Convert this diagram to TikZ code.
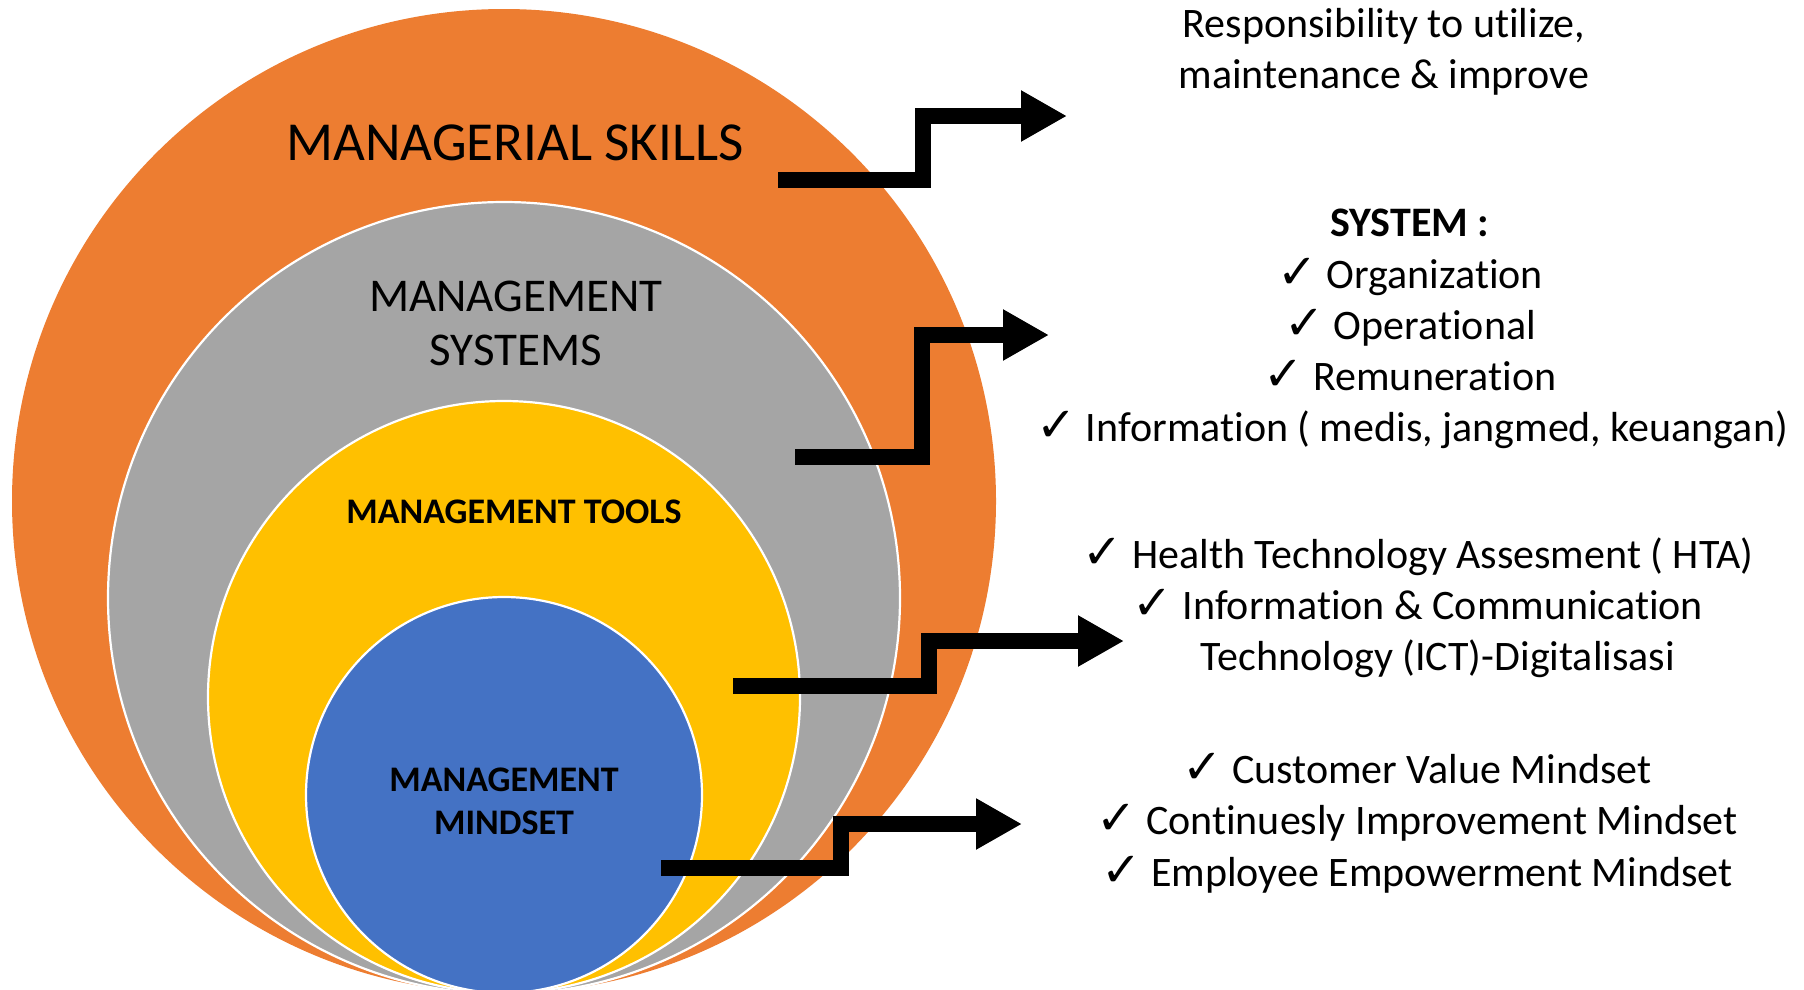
\documentclass[tikz,border=0pt]{standalone}
\usepackage{fontspec}
\setmainfont[RawFeature={-liga;-clig;-calt}]{Carlito}
\newfontfamily\symfont{DejaVu Sans}
\usetikzlibrary{arrows.meta}
\definecolor{corange}{HTML}{ED7D31}
\definecolor{cgray}{HTML}{A5A5A5}
\definecolor{cyellow}{HTML}{FFC000}
\definecolor{cblue}{HTML}{4472C4}
\newcommand{\ck}{{\symfont\bfseries\fontsize{48}{48}\selectfont ✓}\ }
\tikzset{
  ring/.style={draw=white, line width=2.2pt},
  bigtxt/.style={anchor=base, inner sep=0pt, font=\fontsize{55}{60}\selectfont},
  midtxt/.style={anchor=base, inner sep=0pt, font=\fontsize{47}{52}\selectfont},
  boldtxt/.style={anchor=base, inner sep=0pt, font=\fontsize{36}{40}\selectfont\bfseries},
  sidetxt/.style={anchor=base, inner sep=0pt, font=\fontsize{42}{51}\selectfont},
  steparrow/.style={line width=16pt, line join=miter, line cap=butt,
    -{Triangle[width=48pt,length=46pt]}},
}
\begin{document}
\begin{tikzpicture}[x=1pt,y=-1pt]
\useasboundingbox (0,0) rectangle (1804,989);
% circles
\fill[corange] (504,501) circle (492);
\filldraw[fill=cgray, ring] (504,598) circle (396);
\filldraw[fill=cyellow, ring] (504,697) circle (296);
\filldraw[fill=cblue, ring] (504,795) circle (198);
% circle labels
\node[bigtxt] (skills) at (515,160) {MANAGERIAL SKILLS};
\node[midtxt] (sys1) at (516,311) {MANAGEMENT};
\node[midtxt] (sys2) at (516,365) {SYSTEMS};
\node[boldtxt] (tools) at (514,523) {MANAGEMENT TOOLS};
\node[boldtxt] (mind1) at (504,791) {MANAGEMENT};
\node[boldtxt] (mind2) at (504,834) {MINDSET};
% arrows
\coordinate (a1s) at (778,180); \coordinate (a1c) at (923,116); \coordinate (a1t) at (1067,116);
\coordinate (a2s) at (795,457); \coordinate (a2c) at (922,335); \coordinate (a2t) at (1049,335);
\coordinate (a3s) at (733,686); \coordinate (a3c) at (929,641); \coordinate (a3t) at (1124,641);
\coordinate (a4s) at (661,868); \coordinate (a4c) at (841,824); \coordinate (a4t) at (1022,824);
\draw[steparrow] (a1s) -| (a1c) -- (a1t);
\draw[steparrow] (a2s) -| (a2c) -- (a2t);
\draw[steparrow] (a3s) -| (a3c) -- (a3t);
\draw[steparrow] (a4s) -| (a4c) -- (a4t);
% right texts
\node[sidetxt] (r1) at (1384,37) {Responsibility to utilize,};
\node[sidetxt] (r2) at (1384,88) {maintenance \& improve};
\node[sidetxt, font=\fontsize{42}{51}\selectfont\bfseries] (s0) at (1410,236) {SYSTEM :};
\node[sidetxt] (s1) at (1410,288) {\ck Organization};
\node[sidetxt] (s2) at (1410,339) {\ck Operational};
\node[sidetxt] (s3) at (1410,390) {\ck Remuneration};
\node[sidetxt] (s4) at (1412,441) {\ck Information ( medis, jangmed, keuangan)};
\node[sidetxt] (h1) at (1418,568) {\ck Health Technology Assesment ( HTA)};
\node[sidetxt] (h2) at (1418,619) {\ck Information \& Communication};
\node[sidetxt] (h3) at (1438,670) {Technology (ICT)-Digitalisasi};
\node[sidetxt] (m1) at (1417,783) {\ck Customer Value Mindset};
\node[sidetxt] (m2) at (1417,834) {\ck Continuesly Improvement Mindset};
\node[sidetxt] (m3) at (1417,886) {\ck Employee Empowerment Mindset};
\end{tikzpicture}
\end{document}
